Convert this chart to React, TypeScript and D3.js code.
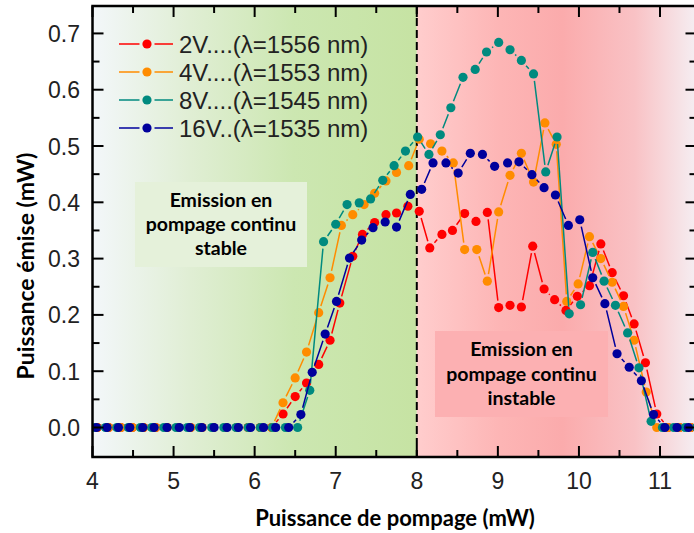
import React from "react";
import * as d3 from "d3";

// ---------- data ----------
const xTicks = [4, 5, 6, 7, 8, 9, 10, 11];
const xMinorTicks = [4.5, 5.5, 6.5, 7.5, 8.5, 9.5, 10.5, 11.5];
const yTicks = [0, 0.1, 0.2, 0.3, 0.4, 0.5, 0.6, 0.7];
const yMinorTicks = [0.05, 0.15, 0.25, 0.35, 0.45, 0.55, 0.65];

const seriesLabels = ["2V....(λ=1556 nm)", "4V....(λ=1553 nm)", "8V....(λ=1545 nm)", "16V..(λ=1535 nm)"];
const seriesColors = ["#FF0000", "#FF8C00", "#008A7F", "#00009C"];

const redX = [4.06, 4.20, 4.35, 4.49, 4.63, 4.78, 4.92, 5.06, 5.21, 5.35, 5.49, 5.64, 5.78, 5.92, 6.07, 6.21,
  6.35, 6.50, 6.64, 6.79, 6.93, 7.05, 7.21, 7.33, 7.48, 7.62, 7.75, 7.89, 8.03, 8.16, 8.31, 8.44, 8.59, 8.73, 8.87, 9.01,
  9.15, 9.29, 9.43, 9.57, 9.70, 9.84, 9.98, 10.13, 10.27, 10.41, 10.55, 10.68, 10.82, 10.96, 11.10, 11.24, 11.38];
const redY = [0, 0, 0, 0, 0, 0, 0, 0, 0, 0, 0, 0, 0, 0, 0, 0,
  0.024, 0.055, 0.079, 0.112, 0.155, 0.221, 0.304, 0.343, 0.364, 0.378, 0.381, 0.393, 0.384, 0.319, 0.343, 0.350, 0.380, 0.366, 0.382, 0.213,
  0.217, 0.214, 0.322, 0.246, 0.227, 0.208, 0.233, 0.252, 0.326, 0.275, 0.234, 0.184, 0.115, 0.024, 0, 0, 0];

const orangeX = [4.06, 4.20, 4.35, 4.49, 4.63, 4.78, 4.92, 5.06, 5.21, 5.35, 5.49, 5.64, 5.78, 5.92, 6.07, 6.21,
  6.35, 6.50, 6.64, 6.79, 6.93, 7.07, 7.21, 7.35, 7.48, 7.62, 7.75, 7.90, 8.03, 8.17, 8.31, 8.45, 8.59, 8.74, 8.87, 9.01,
  9.15, 9.29, 9.44, 9.58, 9.72, 9.85, 9.99, 10.13, 10.27, 10.41, 10.55, 10.68, 10.83, 10.96, 11.10, 11.24, 11.38];
const orangeY = [0, 0, 0, 0, 0, 0, 0, 0, 0, 0, 0, 0, 0, 0, 0, 0,
  0.044, 0.088, 0.134, 0.204, 0.266, 0.359, 0.378, 0.396, 0.416, 0.438, 0.453, 0.465, 0.512, 0.504, 0.491, 0.470, 0.316, 0.316, 0.260, 0.383,
  0.448, 0.487, 0.436, 0.541, 0.503, 0.224, 0.255, 0.339, 0.300, 0.258, 0.215, 0.155, 0.063, 0, 0, 0, 0];

const tealX = [4.02, 4.16, 4.30, 4.44, 4.59, 4.73, 4.88, 5.03, 5.17, 5.32, 5.47, 5.62, 5.77, 5.92, 6.07, 6.22, 6.38, 6.53,
  6.68, 6.85, 7.00, 7.14, 7.29, 7.43, 7.58, 7.72, 7.86, 8.01, 8.15, 8.29, 8.42, 8.57, 8.72, 8.86, 9.01, 9.15, 9.29, 9.44,
  9.59, 9.73, 9.88, 10.02, 10.17, 10.31, 10.45, 10.60, 10.74, 10.89, 11.03, 11.17, 11.31, 11.45];
const tealY = [0, 0, 0, 0, 0, 0, 0, 0, 0, 0, 0, 0, 0, 0, 0, 0, 0, 0,
  0.066, 0.330, 0.361, 0.396, 0.399, 0.406, 0.439, 0.465, 0.491, 0.516, 0.485, 0.520, 0.568, 0.622, 0.636, 0.667, 0.684, 0.671, 0.652, 0.628,
  0.454, 0.516, 0.202, 0.218, 0.311, 0.260, 0.217, 0.168, 0.106, 0.011, 0, 0, 0, 0];

const blueX = [4.05, 4.18, 4.32, 4.46, 4.62, 4.76, 4.92, 5.07, 5.20, 5.35, 5.50, 5.66, 5.80, 5.95, 6.11, 6.26, 6.42,
  6.57, 6.71, 6.87, 7.01, 7.17, 7.32, 7.46, 7.61, 7.75, 7.92, 8.06, 8.20, 8.36, 8.51, 8.66, 8.81, 8.96, 9.12, 9.26,
  9.42, 9.57, 9.71, 9.87, 10.01, 10.17, 10.32, 10.47, 10.62, 10.77, 10.92, 11.06, 11.21, 11.35, 11.49];
const blueY = [0, 0, 0, 0, 0, 0, 0, 0, 0, 0, 0, 0, 0, 0, 0, 0, 0,
  0.023, 0.098, 0.166, 0.224, 0.301, 0.333, 0.355, 0.365, 0.356, 0.414, 0.423, 0.470, 0.470, 0.452, 0.487, 0.485, 0.464, 0.470, 0.472,
  0.449, 0.426, 0.413, 0.359, 0.369, 0.266, 0.220, 0.131, 0.107, 0.083, 0.023, 0, 0, 0, 0];

const stableText = ["Emission en", "pompage continu", "stable"];
const unstableText = ["Emission en", "pompage continu", "instable"];

// ---------- layout ----------
const W = 694, H = 533;
const L = 92.5, R = 696.5, T = 6, B = 457;
const x = d3.scaleLinear().domain([4, 11.45]).range([L, R]);
const y = d3.scaleLinear().domain([-0.0524, 0.7487]).range([B, T]);

const seriesX = [redX, orangeX, tealX, blueX];
const seriesY = [redY, orangeY, tealY, blueY];

const DOT_R = 4.6;
const GAP = 7;

function gapSegments(px: number[], py: number[]) {
  const segs: string[] = [];
  for (let i = 0; i < px.length - 1; i++) {
    const x1 = px[i], y1 = py[i], x2 = px[i + 1], y2 = py[i + 1];
    const dx = x2 - x1, dy = y2 - y1;
    const d = Math.hypot(dx, dy);
    if (d <= 2 * GAP + 0.5) continue;
    const ux = dx / d, uy = dy / d;
    segs.push(`M${x1 + ux * GAP},${y1 + uy * GAP}L${x2 - ux * GAP},${y2 - uy * GAP}`);
  }
  return segs.join("");
}

const tickFont = "'Liberation Sans', Arial, sans-serif";
const labelFont = "Lato, 'Open Sans', sans-serif";

export default function App() {
  const x8 = x(8);
  return (
    <div style={{ position: "absolute", left: 0, top: 0 }}>
      <svg width={W} height={H} style={{ display: "block", background: "#fff" }}>
        <defs>
          <linearGradient id="gGreen" x1="0" x2="1" y1="0" y2="0">
            <stop offset="0" stopColor="#f3f7fa" />
            <stop offset="0.3" stopColor="#e0eed4" />
            <stop offset="0.62" stopColor="#cce7b1" />
            <stop offset="1" stopColor="#c6e3a3" />
          </linearGradient>
          <linearGradient id="gPink" x1="0" x2="1" y1="0" y2="0">
            <stop offset="0" stopColor="#ffcdcd" />
            <stop offset="0.3" stopColor="#fdb5b5" />
            <stop offset="0.52" stopColor="#fbabac" />
            <stop offset="0.78" stopColor="#f9c2c5" />
            <stop offset="1" stopColor="#f5eef2" />
          </linearGradient>
          <clipPath id="plotClip">
            <rect x={L} y={T} width={R - L} height={B - T} />
          </clipPath>
        </defs>

        {/* backgrounds */}
        <rect x={L} y={T} width={x8 - L} height={B - T} fill="url(#gGreen)" />
        <rect x={x8} y={T} width={R - x8} height={B - T} fill="url(#gPink)" />

        {/* annotation boxes */}
        <rect x={135} y={182} width={172} height={85} fill="#e5f1da" />
        <rect x={435} y={331} width={173} height={86} fill="#fcb0b2" />
        {stableText.map((t, i) => (
          <text key={"s" + i} x={221} y={207 + i * 24} textAnchor="middle" fontFamily={labelFont}
            fontWeight={700} fontSize={19.5} fill="#000">{t}</text>
        ))}
        {unstableText.map((t, i) => (
          <text key={"u" + i} x={521.5} y={356 + i * 24.5} textAnchor="middle" fontFamily={labelFont}
            fontWeight={700} fontSize={19.5} fill="#000">{t}</text>
        ))}

        {/* dashed line at 8 */}
        <line x1={x8} x2={x8} y1={T} y2={B} stroke="#000" strokeWidth={2} strokeDasharray="8,4" />

        {/* data */}
        <g clipPath="url(#plotClip)">
          {seriesX.map((xs, si) => {
            const px = xs.map((v) => x(v));
            const py = seriesY[si].map((v) => y(v));
            return (
              <g key={si}>
                <path d={gapSegments(px, py)} stroke={seriesColors[si]} strokeWidth={1.5} fill="none" />
                {px.map((cx, i) => (
                  <circle key={i} cx={cx} cy={py[i]} r={DOT_R} fill={seriesColors[si]} />
                ))}
              </g>
            );
          })}
        </g>

        {/* frame */}
        <rect x={L} y={T} width={R - L} height={B - T} fill="none" stroke="#000" strokeWidth={2.5} />

        {/* x ticks */}
        {xTicks.map((v) => (
          <g key={"xt" + v}>
            <line x1={x(v)} x2={x(v)} y1={B} y2={B - 11} stroke="#000" strokeWidth={2} />
            <line x1={x(v)} x2={x(v)} y1={T} y2={T + 11} stroke="#000" strokeWidth={2} />
            <text x={x(v)} y={489} textAnchor="middle" fontFamily={tickFont} fontSize={23} fill="#222">{v}</text>
          </g>
        ))}
        {xMinorTicks.map((v) => (
          <g key={"xm" + v}>
            <line x1={x(v)} x2={x(v)} y1={B} y2={B - 7} stroke="#000" strokeWidth={2} />
            <line x1={x(v)} x2={x(v)} y1={T} y2={T + 7} stroke="#000" strokeWidth={2} />
          </g>
        ))}

        {/* y ticks */}
        {yTicks.map((v) => (
          <g key={"yt" + v}>
            <line x1={L} x2={L + 11} y1={y(v)} y2={y(v)} stroke="#000" strokeWidth={2} />
            <line x1={R} x2={R - 11} y1={y(v)} y2={y(v)} stroke="#000" strokeWidth={2} />
            <text x={80} y={y(v) + 8.5} textAnchor="end" fontFamily={tickFont} fontSize={23} fill="#222">{d3.format(".1f")(v)}</text>
          </g>
        ))}
        {yMinorTicks.map((v) => (
          <g key={"ym" + v}>
            <line x1={L} x2={L + 7} y1={y(v)} y2={y(v)} stroke="#000" strokeWidth={2} />
            <line x1={R} x2={R - 7} y1={y(v)} y2={y(v)} stroke="#000" strokeWidth={2} />
          </g>
        ))}

        {/* legend */}
        {seriesLabels.map((lab, i) => {
          const cy = 44 + i * 28;
          return (
            <g key={"lg" + i}>
              <line x1={119} x2={139.5} y1={cy} y2={cy} stroke={seriesColors[i]} strokeWidth={1.5} />
              <line x1={154.5} x2={173} y1={cy} y2={cy} stroke={seriesColors[i]} strokeWidth={1.5} />
              <circle cx={147} cy={cy} r={DOT_R} fill={seriesColors[i]} />
              <text x={179} y={cy + 8.5} fontFamily={tickFont} fontSize={24} fill="#222">{lab}</text>
            </g>
          );
        })}

        {/* axis titles */}
        <text x={395} y={526} textAnchor="middle" fontFamily={labelFont} fontWeight={700} fontSize={22} fill="#000">
          Puissance de pompage (mW)
        </text>
        <text transform="translate(34,266) rotate(-90)" textAnchor="middle" fontFamily={labelFont} fontWeight={700}
          fontSize={23} fill="#000">
          Puissance émise (mW)
        </text>
      </svg>
    </div>
  );
}
